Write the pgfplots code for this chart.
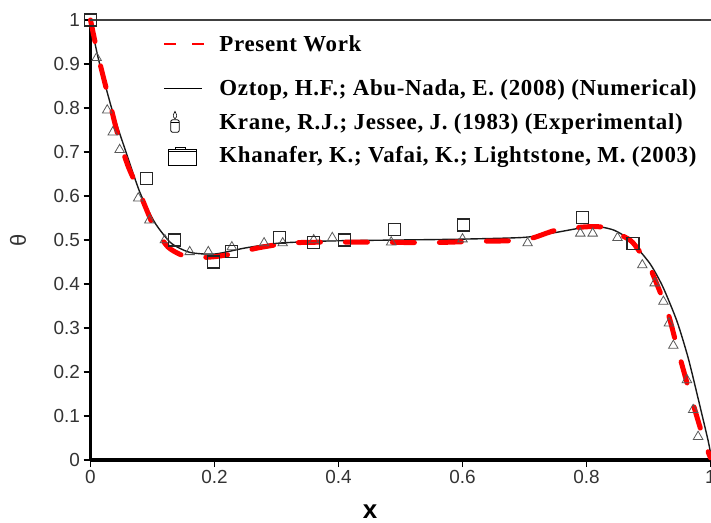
\documentclass[border=0pt]{standalone}
\usepackage{pgfplots}
\pgfplotsset{compat=1.18}
\usepackage{fontspec}
\setmainfont{Liberation Sans}
\newfontfamily\legfont[LetterSpace=3]{Liberation Serif}
\definecolor{tickgray}{HTML}{333333}

\pgfplotstableread{
x y
0     1.0
0.012 0.92
0.028 0.83
0.044 0.74
0.06  0.67
0.077 0.615
0.093 0.56
0.104 0.525
0.125 0.484
0.145 0.467
0.164 0.46
0.2   0.462
0.235 0.47
0.27  0.482
0.32  0.493
0.37  0.495
0.45  0.495
0.55  0.494
0.62  0.497
0.7   0.5
0.75  0.522
0.8   0.53
0.83  0.528
0.87  0.5
0.885 0.475
0.9   0.445
0.93  0.34
0.946 0.257
0.964 0.166
0.983 0.075
0.995 0.023
1.0   0.005
}\present

\pgfplotstableread{
x y
0     1.0
0.012 0.916
0.035 0.795
0.056 0.705
0.08  0.607
0.104 0.539
0.13  0.493
0.16  0.472
0.2   0.468
0.25  0.482
0.305 0.493
0.39  0.498
0.5   0.5
0.6   0.502
0.7   0.506
0.75  0.517
0.79  0.527
0.82  0.53
0.845 0.522
0.87  0.5
0.902 0.447
0.923 0.394
0.946 0.315
0.964 0.232
0.98  0.14
0.996 0.045
1.0   0.016
}\oztop

\pgfplotstableread{
x y
0.01  0.914
0.027 0.795
0.036 0.745
0.047 0.705
0.077 0.595
0.095 0.545
0.12  0.5
0.16  0.473
0.19  0.473
0.228 0.484
0.28  0.493
0.31  0.493
0.36  0.5
0.39  0.505
0.485 0.495
0.60  0.502
0.705 0.493
0.79  0.515
0.81  0.515
0.85  0.505
0.89  0.443
0.91  0.402
0.924 0.36
0.933 0.311
0.94  0.26
0.962 0.182
0.972 0.114
0.98  0.053
}\krane

\pgfplotstableread{
x y
0     1.0
0.091 0.64
0.136 0.5
0.198 0.45
0.228 0.473
0.305 0.505
0.36  0.495
0.41  0.5
0.49  0.523
0.602 0.534
0.793 0.552
0.875 0.493
}\khanafer

\begin{document}
\begin{tikzpicture}
\useasboundingbox (-90.5bp,-63bp) rectangle (620.5bp,460bp);
\begin{axis}[
  at={(0,0)}, anchor=south west,
  scale only axis, width=620bp, height=440bp,
  xmin=0, xmax=1, ymin=0, ymax=1,
  clip=false,
  axis x line*=bottom, axis y line*=left,
  axis line style={line width=3.5bp, black},
  tick align=outside,
  major tick length=7bp,
  tick style={black, line width=1.1bp},
  xtick={0,0.2,0.4,0.6,0.8,1},
  xticklabels={0,0.2,0.4,0.6,0.8,1},
  ytick={0,0.1,0.2,0.3,0.4,0.5,0.6,0.7,0.8,0.9,1},
  yticklabels={0,0.1,0.2,0.3,0.4,0.5,0.6,0.7,0.8,0.9,1},
  /pgf/number format/assume math mode=true,
  tick label style={font=\fontsize{19}{22}\selectfont, text=tickgray},
  xlabel={x},
  ylabel={θ},
  every axis x label/.style={at={(axis description cs:0.451,-0.118)}, anchor=center, font=\fontsize{26}{30}\selectfont\bfseries},
  every axis y label/.style={at={(axis description cs:-0.117,0.5)}, rotate=90, anchor=center, font=\fontsize{22}{26}\selectfont, text=tickgray},
  legend style={at={(axis description cs:0.117,0.967)}, anchor=north west,
    draw=none, fill=none, inner sep=0pt,
    font=\legfont\bfseries\fontsize{23}{27}\selectfont,
    row sep=13bp,
    nodes={inner sep=1bp}},
  legend cell align=left,
]
\addlegendimage{legend image code/.code={
  \draw[red, line width=2bp, dash pattern=on 12bp off 16bp] (0bp,0bp) -- (45bp,0bp);
  \path (54bp,0bp) (0bp,-21bp);}}
\addlegendentry{Present Work}
\addlegendimage{legend image code/.code={
  \draw[black, line width=1.4bp] (0bp,0bp) -- (38bp,0bp);
  \path (54bp,0bp);}}
\addlegendentry{Oztop, H.F.; Abu-Nada, E. (2008) (Numerical)}
\addlegendimage{legend image code/.code={
  \draw[black, line width=0.8bp, rounded corners=2bp] (6.5bp,-10bp) rectangle (15bp,2.5bp);
  \draw[black, line width=0.6bp] (6.5bp,0.5bp) -- (15bp,0.5bp);
  \draw[black, line width=0.6bp] (10.75bp,3.5bp) .. controls (7.5bp,6bp) and (9.5bp,9bp) .. (10.75bp,11bp)
     .. controls (12bp,9bp) and (14bp,6bp) .. (10.75bp,3.5bp);
  \path (54bp,0bp);}}
\addlegendentry{Krane, R.J.; Jessee, J. (1983) (Experimental)}
\addlegendimage{legend image code/.code={
  \draw[black, line width=0.8bp] (4bp,-10bp) rectangle (32bp,6bp);
  \draw[black, line width=0.6bp] (4bp,4bp) -- (32bp,4bp);
  \draw[black, line width=0.7bp] (11bp,6bp) -- (11bp,8.5bp) -- (21bp,8.5bp) -- (21bp,6bp);
  \path (54bp,0bp);}}
\addlegendentry{Khanafer, K.; Vafai, K.; Lightstone, M. (2003)}

\addplot[forget plot, only marks, mark=triangle, mark size=5.5bp,
  draw=black!65, mark options={line width=0.8bp}] table {\krane};
\addplot[forget plot, only marks, mark=square, mark size=6bp,
  draw=black!85, mark options={line width=1.1bp}] table {\khanafer};
\addplot[forget plot, black!90, line width=1.4bp, smooth, tension=0.4, no marks] table {\oztop};
\addplot[forget plot, red, line width=5bp, dash pattern=on 22bp off 25bp, line cap=round,
  smooth, tension=0.4, no marks] table {\present};
\draw[black!75, line width=1.3bp] (rel axis cs:0,1) -- (rel axis cs:1,1);
\end{axis}
\end{tikzpicture}
\end{document}
